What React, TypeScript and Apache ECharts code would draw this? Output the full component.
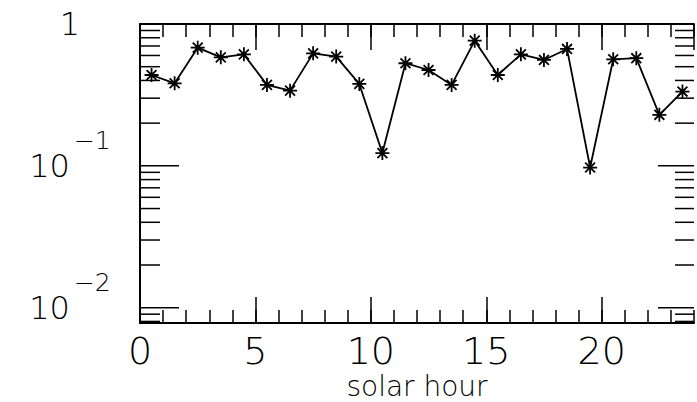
import React, { useEffect, useRef } from "react";
import * as echarts from "echarts";

const hours = [0.5, 1.5, 2.5, 3.5, 4.5, 5.5, 6.5, 7.5, 8.5, 9.5, 10.5, 11.5, 12.5, 13.5, 14.5, 15.5, 16.5, 17.5, 18.5, 19.5, 20.5, 21.5, 22.5, 23.5];
const values = [0.437, 0.382, 0.681, 0.582, 0.611, 0.372, 0.339, 0.621, 0.589, 0.378, 0.123, 0.529, 0.474, 0.372, 0.763, 0.437, 0.611, 0.558, 0.667, 0.0973, 0.564, 0.574, 0.229, 0.334];
const xMin = 0;
const xMax = 24;
const yMin = 0.0078;
const yMax = 1;
const majorYTicks = [0.01, 0.1];
const minorYTicks = [0.008, 0.009, 0.02, 0.03, 0.04, 0.05, 0.06, 0.07, 0.08, 0.09, 0.2, 0.3, 0.4, 0.5, 0.6, 0.7, 0.8, 0.9];
const xAxisTitle = "solar hour";

const FONT = "DejaVu Sans";
const STAR = "path://M10,0L10,20M0,10L20,10M2.93,2.93L17.07,17.07M2.93,17.07L17.07,2.93";

export default function App() {
  const ref = useRef<HTMLDivElement>(null);
  useEffect(() => {
    if (!ref.current) return;
    const chart = echarts.init(ref.current, undefined, { renderer: "svg" });
    const axisLine = { show: true, lineStyle: { color: "#000", width: 2 } };
    const yFormatter = (v: number) => {
      const e = Math.round(Math.log10(v));
      if (Math.abs(Math.log10(v) - e) > 1e-6) return "";
      if (e === 0) return "{b|1}";
      return "{b|10}{s|\u2212" + Math.abs(e) + "}";
    };
    const yRich = {
      b: { fontFamily: FONT, fontWeight: 200, fontSize: 32, lineHeight: 32, color: "#000" },
      s: { fontFamily: FONT, fontWeight: 200, fontSize: 25, lineHeight: 32, color: "#000", padding: [0, 0, 50, 4] },
    };
    const tickSeries = (ticks: number[], lenL: number, lenR: number) => ({
      type: "custom",
      xAxisIndex: 0, yAxisIndex: 0,
      silent: true, clip: false,
      data: ticks.map((v) => [xMin, v]),
      renderItem: (params: any, api: any) => {
        const v = api.value(1);
        const pL = api.coord([xMin, v]);
        const pR = api.coord([xMax, v]);
        const style = { stroke: "#000", lineWidth: 1.5 };
        return {
          type: "group",
          children: [
            { type: "line", shape: { x1: pL[0], y1: pL[1], x2: pL[0] + lenL, y2: pL[1] }, style },
            { type: "line", shape: { x1: pR[0] - lenR, y1: pR[1], x2: pR[0], y2: pR[1] }, style },
          ],
        };
      },
    });
    chart.setOption({
      animation: false,
      backgroundColor: "#fff",
      grid: { left: 140, top: 24, width: 554, height: 299, containLabel: false, outerBoundsMode: "none" },
      xAxis: [
        {
          type: "value", position: "bottom", min: xMin, max: xMax, interval: 5,
          axisLine, splitLine: { show: false },
          axisTick: { show: true, inside: true, length: 26, lineStyle: { color: "#000", width: 1.5 } },
          axisLabel: { show: true, showMaxLabel: false, margin: 13, lineHeight: 30, fontFamily: FONT, fontWeight: 200, fontSize: 38, color: "#000" },
          name: xAxisTitle, nameLocation: "middle", nameGap: 51, nameMoveOverlap: false,
          nameTextStyle: { fontFamily: FONT, fontWeight: 200, fontSize: 28, lineHeight: 24, color: "#000" },
        },
        {
          type: "value", position: "bottom", min: xMin, max: xMax, interval: 1,
          axisLine: { show: false }, splitLine: { show: false }, axisLabel: { show: false },
          axisTick: { show: true, inside: true, length: 13, lineStyle: { color: "#000", width: 1.5 } },
        },
        {
          type: "value", position: "top", min: xMin, max: xMax, interval: 5,
          axisLine, splitLine: { show: false }, axisLabel: { show: false },
          axisTick: { show: true, inside: true, length: 26, lineStyle: { color: "#000", width: 1.5 } },
        },
        {
          type: "value", position: "top", min: xMin, max: xMax, interval: 1,
          axisLine: { show: false }, splitLine: { show: false }, axisLabel: { show: false },
          axisTick: { show: true, inside: true, length: 13, lineStyle: { color: "#000", width: 1.5 } },
        },
      ],
      yAxis: [
        {
          type: "log", logBase: 10, position: "left", min: yMin, max: yMax,
          axisLine, splitLine: { show: false },
          axisTick: { show: false },
          axisLabel: { show: true, formatter: yFormatter, rich: yRich, align: "center", margin: 70, showMinLabel: true, showMaxLabel: true },
        },
        {
          type: "log", logBase: 10, position: "right", min: yMin, max: yMax,
          axisLine, splitLine: { show: false }, axisLabel: { show: false },
          axisTick: { show: false },
        },
      ],
      series: [
        tickSeries(minorYTicks, 20, 19),
        tickSeries(majorYTicks, 39, 36),
        {
          type: "line",
          xAxisIndex: 0, yAxisIndex: 0,
          data: hours.map((h, i) => [h, values[i]]),
          symbol: STAR, symbolSize: 14,
          lineStyle: { color: "#000", width: 1.8 },
          itemStyle: { color: "#000", borderColor: "#000", borderWidth: 1.8 },
        },
      ],
    });
    return () => chart.dispose();
  }, []);
  return <div ref={ref} style={{ position: "fixed", left: 0, top: 0, width: 697, height: 402, background: "#fff" }} />;
}
